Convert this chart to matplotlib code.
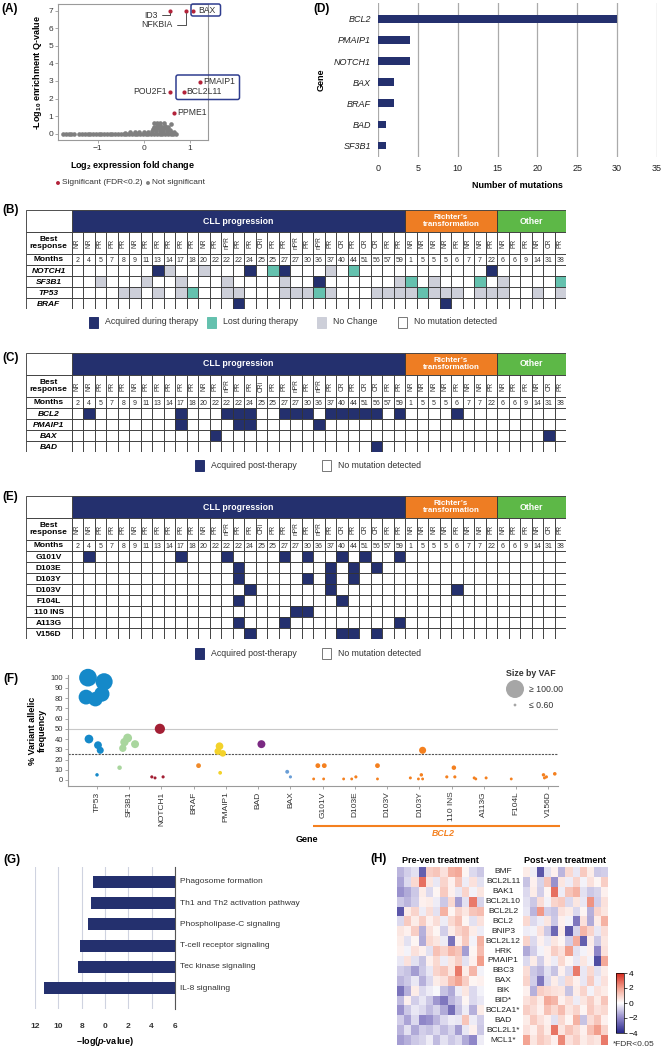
import matplotlib
matplotlib.use('Agg')
import matplotlib.pyplot as plt
from matplotlib.patches import Rectangle, FancyBboxPatch
from matplotlib.colors import LinearSegmentedColormap
import numpy as np

plt.rcParams['font.family'] = ['Liberation Sans', 'DejaVu Sans']
plt.rcParams['mathtext.fontset'] = 'custom'
plt.rcParams['mathtext.rm'] = 'Liberation Sans'
plt.rcParams['mathtext.it'] = 'Liberation Sans:italic'
plt.rcParams['mathtext.bf'] = 'Liberation Sans:bold'
try:
    plt.rcParams['mathtext.bfit'] = 'Liberation Sans:bold:italic'
except KeyError:
    pass

# ======================= DATA =======================
# (A) volcano-like plot
sig_genes = ['BAX', 'NFKBIA', 'ID3', 'PMAIP1', 'BCL2L11', 'POU2F1', 'PPME1']
sig_fc = [1.07, 0.92, 0.56, 1.22, 0.86, 0.56, 0.65]
sig_q = [7.0, 7.0, 7.0, 2.95, 2.38, 2.38, 1.18]
ns_fc = [-1.75, -1.69, -1.63, -1.57, -1.51,
         -1.40, -1.34, -1.28, -1.22, -1.16, -1.10, -1.04, -0.98, -0.92, -0.86, -0.80, -0.74,
         -0.68, -0.62, -0.56, -0.50, -0.44, -0.38, -0.32, -0.26, -0.20, -0.14, -0.08, -0.02,
         0.04, 0.10, 0.16, 0.22, 0.28, 0.34, 0.40, 0.46, 0.52, 0.58, 0.64, 0.70,
         -0.40, -0.30, -0.20, -0.10, 0.00, 0.10, 0.18, 0.26, 0.34, 0.42, 0.50, 0.58, 0.65,
         0.20, 0.26, 0.32, 0.38, 0.44, 0.50, 0.56,
         0.22, 0.28, 0.34, 0.40, 0.46, 0.52,
         0.22, 0.28, 0.36, 0.44, 0.58]
ns_q = [0, 0, 0, 0, 0,
        0, 0, 0, 0, 0, 0, 0, 0, 0, 0, 0, 0,
        0, 0, 0, 0, 0, 0, 0, 0, 0, 0, 0, 0,
        0, 0, 0, 0, 0, 0, 0, 0, 0, 0, 0, 0,
        0.05, 0.08, 0.08, 0.10, 0.12, 0.12, 0.15, 0.15, 0.18, 0.16, 0.14, 0.12, 0.08,
        0.25, 0.28, 0.30, 0.27, 0.30, 0.25, 0.22,
        0.40, 0.42, 0.45, 0.40, 0.44, 0.38,
        0.58, 0.60, 0.58, 0.60, 0.55]

# (D) number of mutations
d_genes = ['BCL2', 'PMAIP1', 'NOTCH1', 'BAX', 'BRAF', 'BAD', 'SF3B1']
d_counts = [30, 4, 4, 2, 2, 1, 1]

# Tables (B), (C), (E)
group_names = ['CLL progression', 'Richter\u2019s\ntransformation', 'Other']
group_sizes = [29, 8, 6]
resp_cll = ['NR', 'NR', 'PR', 'PR', 'PR', 'NR', 'PR', 'PR', 'PR', 'PR', 'PR', 'NR', 'PR', 'nPR', 'PR',
            'PR', 'CRi', 'PR', 'PR', 'nPR', 'PR', 'nPR', 'PR', 'CR', 'PR', 'CR', 'CR', 'PR', 'PR']
months_cll = [2, 4, 5, 7, 8, 9, 11, 13, 14, 17, 18, 20, 22, 22, 22, 24, 25, 25, 27, 27, 30, 36, 37,
              40, 44, 51, 56, 57, 59]
resp_rt = ['NR', 'NR', 'NR', 'NR', 'PR', 'NR', 'NR', 'PR']
months_rt = [1, 5, 5, 5, 6, 7, 7, 22]
resp_other = ['NR', 'PR', 'PR', 'NR', 'CR', 'PR']
months_other = [6, 6, 9, 14, 31, 38]

# (B) column indices per status
b_genes = ['NOTCH1', 'SF3B1', 'TP53', 'BRAF']
b_acquired = [[7, 15, 18, 36], [21], [], [14, 32]]
b_lost = [[17, 24], [29, 35, 42], [10, 21, 30], []]
b_nochange = [[8, 11, 22],
              [2, 6, 9, 13, 18, 28, 31, 37],
              [4, 5, 7, 9, 13, 14, 18, 19, 20, 22, 26, 27, 28, 29, 31, 32, 33, 35, 36, 37, 40, 42],
              []]

# (C) acquired post-therapy
c_genes = ['BCL2', 'PMAIP1', 'BAX', 'BAD']
c_acquired = [[1, 9, 13, 14, 15, 18, 19, 20, 22, 23, 24, 25, 26, 28, 33],
              [9, 14, 15, 21], [12, 41], [26]]

# (E) BCL2 mutations acquired post-therapy
e_genes = ['G101V', 'D103E', 'D103Y', 'D103V', 'F104L', '110 INS', 'A113G', 'V156D']
e_acquired = [[1, 9, 13, 18, 20, 23, 25, 28], [14, 22, 24, 26], [14, 20, 22, 24], [15, 22, 33],
              [14, 23], [19, 20], [14, 18, 28], [15, 23, 24, 26]]

# (F) variant allelic frequency
f_categories = ['TP53', 'SF3B1', 'NOTCH1', 'BRAF', 'PMAIP1', 'BAD', 'BAX', 'G101V', 'D103E',
                'D103V', 'D103Y', '110 INS', 'A113G', 'F104L', 'V156D']
f_pt_gene = ['TP53'] * 9 + ['SF3B1'] * 5 + ['NOTCH1'] * 4 + ['BRAF'] + ['PMAIP1'] * 4 + ['BAD'] + \
            ['BAX'] * 2 + ['G101V'] * 4 + ['D103E'] * 3 + ['D103V'] * 2 + ['D103Y'] * 5 + \
            ['110 INS'] * 3 + ['A113G'] * 3 + ['F104L'] + ['V156D'] * 4
f_pt_offset = [-0.28, 0.22, -0.34, -0.05, 0.15, -0.25, 0.03, 0.10, 0.00,
               -0.20, -0.15, -0.05, 0.18, -0.30,
               -0.05, -0.30, -0.20, 0.05,
               0.15,
               -0.20, -0.25, -0.10, -0.18,
               0.10,
               -0.10, 0.00,
               -0.15, 0.05, -0.28, 0.03,
               -0.35, -0.10, 0.03,
               -0.30, -0.30,
               0.10, -0.28, -0.03, 0.06, 0.10,
               -0.15, 0.07, 0.10,
               -0.30, -0.25, 0.07,
               -0.15,
               -0.15, -0.12, -0.06, 0.20]
f_pt_vaf = [100, 96, 81, 79, 84, 40, 34, 29, 5,
            31, 37, 41, 35, 12,
            50, 3, 2, 3,
            14,
            33, 28, 26, 7,
            35,
            8, 3,
            14, 14, 1, 1,
            1, 1, 3,
            14, 1,
            29, 2, 1, 5, 1,
            3, 12, 3,
            2, 1, 2,
            1,
            5, 2, 3, 6]

# (G) pathways
g_pathways = ['Phagosome formation', 'Th1 and Th2 activation pathway', 'Phospholipase-C signaling',
              'T-cell receptor signaling', 'Tec kinase signaling', 'IL-8 signaling']
g_values = [7.05, 7.17, 7.46, 8.14, 8.29, 11.2]
g_tick_values = [12, 10, 8, 6, 4, 2, 0]
g_tick_labels = ['12', '10', '8', '0', '2', '4', '6']

# (H) heat maps
h_genes = ['BMF', 'BCL2L11', 'BAK1', 'BCL2L10', 'BCL2L2', 'BCL2', 'BNIP3', 'BCL2L12', 'HRK',
           'PMAIP1', 'BBC3', 'BAX', 'BIK', 'BID*', 'BCL2A1*', 'BAD', 'BCL2L1*', 'MCL1*']
h_pre = [
    [-1.2, -0.8, -0.5, -2.8, 1.0, 1.2, 0.6, 1.6, 1.8, 0.2, -0.6, -0.9],
    [-1.5, -0.6, 0.8, 2.8, 0.5, -0.4, 0.9, 0.3, 1.2, -0.3, 0.6, -0.5],
    [-1.8, -1.4, -0.9, 0.4, -0.6, 0.2, 1.1, 0.3, -0.4, 0.9, -0.2, 0.5],
    [-0.9, -1.2, -0.8, 0.3, 0.4, -0.3, -0.9, 0.8, -1.6, -0.5, 2.6, -0.7],
    [-3.0, 0.4, 0.9, -0.3, 0.7, -0.5, 1.6, 0.2, 0.9, 0.5, 1.2, 1.4],
    [-0.6, 1.1, 0.4, 1.0, 0.3, 0.7, -0.3, 0.8, 1.3, 0.2, -0.5, 0.6],
    [0.5, 0.3, 1.0, -1.3, 0.6, 0.2, -0.8, 0.4, 0.9, 1.2, 0.4, -0.3],
    [0.4, -0.5, 0.2, -1.4, 0.8, 0.5, -0.3, -2.4, 0.3, 1.1, -0.2, 1.6],
    [0.3, -0.2, 0.6, 0.3, -0.5, 1.3, 0.9, 1.5, 1.2, -1.6, 0.2, 1.4],
    [-0.4, 0.6, -0.5, -1.0, 0.3, 0.8, -0.3, 0.5, 1.0, -0.5, 0.3, 2.0],
    [-0.8, -1.0, -1.6, -0.9, -0.4, 0.9, 1.2, 0.5, 2.6, 0.4, 1.5, -0.2],
    [-1.2, -0.9, -0.4, -1.3, -0.6, 0.4, 0.6, 1.4, 1.9, 1.0, 0.2, 0.3],
    [-2.4, -1.3, 0.4, -0.6, -0.3, -0.1, -1.0, -1.4, -0.3, 0.5, -0.6, -0.2],
    [-1.1, 0.3, -0.8, -0.4, -0.9, -1.7, -2.3, -1.2, -0.8, 0.2, -0.6, -0.4],
    [-1.8, -0.9, -0.4, -0.6, -1.1, -0.7, -1.4, -2.5, -1.0, -0.3, -1.3, 0.4],
    [-0.8, -1.5, -0.6, -2.0, -1.8, -1.2, -0.6, -0.3, -0.4, 1.2, -0.3, -0.8],
    [-1.2, -0.5, -1.4, -0.8, -1.0, -0.6, -1.1, -0.7, -1.6, -0.4, 0.3, -0.9],
    [-1.6, -1.3, -0.9, -0.7, -0.3, -1.1, -0.5, -0.9, -0.6, -1.4, -2.0, -0.3],
]
h_post = [
    [0.4, -0.3, -3.0, -0.5, 0.3, -1.2, 0.8, -0.4, 1.1, 0.4, -0.9, -0.8],
    [-1.0, 0.3, -0.7, 1.2, -1.8, 0.5, -0.3, 0.9, -0.2, 0.6, 0.2, 1.0],
    [-0.6, 0.4, -0.8, 0.2, 2.8, -0.3, 1.2, 1.6, -0.5, -0.9, -0.7, 0.3],
    [-0.5, -0.9, 0.7, -0.2, 0.9, 1.1, -0.6, 0.5, -0.4, 2.2, -0.8, 0.6],
    [-0.4, -1.2, 2.1, -0.8, -1.0, 0.6, 0.4, -0.6, 0.2, -1.3, 0.9, 0.5],
    [0.8, -0.6, -0.3, 0.5, -0.9, 0.3, -0.2, -2.3, 0.6, -1.4, 0.4, 1.6],
    [-0.3, -0.2, 0.6, -0.9, -2.6, 0.4, -3.0, -0.7, 1.5, 0.9, -0.4, 0.7],
    [0.9, -0.6, 0.3, -0.4, 0.5, 0.2, -0.8, 1.7, -2.8, 0.4, -0.9, 0.5],
    [-1.4, -0.8, -0.2, 0.3, 1.0, 0.6, 2.0, -0.5, -0.2, 0.3, -2.0, 0.6],
    [-0.6, 0.4, -0.8, 0.3, -0.3, 0.8, 0.2, -0.4, 0.5, -0.2, -3.2, 1.8],
    [0.7, -0.9, -1.2, -0.5, -1.0, 0.3, -0.6, 2.6, -0.4, 0.8, -0.5, 0.4],
    [0.9, -0.8, -2.3, -0.6, 0.4, -0.5, 0.8, 0.3, -0.4, 1.1, -0.3, 0.6],
    [0.3, -1.3, 1.0, 0.8, 0.6, 0.5, -1.0, 0.4, 0.9, -0.2, 0.6, 0.4],
    [0.6, 0.9, 0.4, 1.8, 1.5, 0.3, 0.7, -0.3, 0.5, 1.0, 0.4, 1.2],
    [1.0, 0.7, 0.3, 1.3, 0.8, 1.4, 0.5, 0.9, 0.2, 1.1, 0.6, 0.8],
    [0.4, 1.1, 0.6, 0.3, -0.5, 0.8, 0.2, 1.6, -1.0, 0.7, 1.2, 0.3],
    [0.6, 0.3, 1.0, 0.4, 2.7, 0.5, 1.2, 0.8, 0.3, 1.3, 2.0, 0.9],
    [1.9, 0.5, 1.1, 0.8, 0.3, 2.4, 0.6, 1.0, 0.4, 0.7, 0.5, 2.6],
]

# ======================= STYLE =======================
NAVY = '#24306e'
TEAL = '#64c1ae'
GREY_NC = '#cdcfd9'
ORANGE = '#ee7d23'
GREEN = '#5db847'
SIG_RED = '#b3233a'
NS_GREY = '#7f7f7f'
BOXBLUE = '#2f3d8f'
group_colors = [NAVY, ORANGE, GREEN]
f_colors = {'TP53': '#1589c9', 'SF3B1': '#a9d69e', 'NOTCH1': '#a31f34', 'BRAF': '#f08a2a',
            'PMAIP1': '#f3d22a', 'BAD': '#7b2a83', 'BAX': '#6a9ed6'}
BCL2_COLOR = '#f4801f'

W, H = 662, 1050
fig = plt.figure(figsize=(6.62, 10.5), dpi=100)


def px_rect(l, t, r, b):
    return [l / W, 1 - b / H, (r - l) / W, (b - t) / H]


# ======================= (A) =======================
axA = fig.add_axes(px_rect(58, 4, 208, 140))
axA.scatter(ns_fc, ns_q, s=11, c=NS_GREY, lw=0, zorder=2)
axA.scatter(sig_fc, sig_q, s=9, c=SIG_RED, lw=0, zorder=3)
axA.set_xlim(-1.86, 1.39)
axA.set_ylim(-0.36, 7.38)
axA.set_xticks([-1, 0, 1])
axA.set_yticks(range(8))
for sp in axA.spines.values():
    sp.set_color('#9a9a9a')
    sp.set_linewidth(0.8)
axA.tick_params(labelsize=6, length=2, width=0.6, color='#9a9a9a', pad=1.5, labelcolor='#333333')
axA.set_xlabel(r'Log$_{\mathbf{2}}$ expression fold change', fontsize=6.5, weight='bold', labelpad=5)
axA.set_ylabel(r'-Log$_{\mathbf{10}}$ enrichment Q-value', fontsize=6.5, weight='bold', labelpad=3)
lab_kw = dict(fontsize=6.2, color='#333333', va='center')
axA.text(1.17, 7.0, 'BAX', ha='left', **lab_kw)
axA.text(1.29, 2.95, 'PMAIP1', ha='left', **lab_kw)
axA.text(0.92, 2.38, 'BCL2L11', ha='left', **lab_kw)
axA.text(0.49, 2.38, 'POU2F1', ha='right', **lab_kw)
axA.text(0.73, 1.18, 'PPME1', ha='left', **lab_kw)
conn = dict(arrowstyle='-', color='#333333', lw=0.6, shrinkA=1, shrinkB=2,
            connectionstyle='angle,angleA=0,angleB=90,rad=0')
axA.annotate('ID3', xy=(0.56, 7.0), xytext=(0.30, 6.75), ha='right', arrowprops=conn, **lab_kw)
axA.annotate('NFKBIA', xy=(0.92, 7.0), xytext=(0.63, 6.2), ha='right', arrowprops=conn, **lab_kw)

# ======================= (D) =======================
axD = fig.add_axes(px_rect(378, 3, 657, 157))
axD.barh(range(len(d_genes)), d_counts, height=0.36, color=NAVY, zorder=3)
axD.set_xlim(0, 35)
axD.set_ylim(6.55, -0.75)
axD.set_xticks(range(0, 36, 5))
axD.set_yticks(range(len(d_genes)))
axD.set_yticklabels(d_genes, style='italic')
axD.grid(axis='x', color='#aaaaaa', lw=0.9)
axD.set_axisbelow(True)
for sp in axD.spines.values():
    sp.set_visible(False)
axD.tick_params(length=0, labelsize=6.5, labelcolor='#222222', pad=5)
axD.set_xlabel('Number of mutations', weight='bold', fontsize=6.5, labelpad=6)
axD.set_ylabel('Gene', weight='bold', fontsize=6.5, labelpad=6)

# ======================= TABLES =======================
all_resp = resp_cll + resp_rt + resp_other
all_months = months_cll + months_rt + months_other
NCOL = len(all_months)
LABW = 3.96
EC = '#333333'
LW = 0.6


def draw_table(top, genes, colour_rows, gene_style):
    n = len(genes)
    bottom = top + 55 + 11 * n
    ax = fig.add_axes(px_rect(26, top, 26 + (LABW + NCOL) * 11.5, bottom))
    ax.set_xlim(-LABW, NCOL)
    ax.set_ylim(5 + n, 0)
    ax.axis('off')
    start = 0
    for name, size, col in zip(group_names, group_sizes, group_colors):
        ax.add_patch(Rectangle((start, 0), size, 2, fc=col, ec=EC, lw=LW))
        ax.text(start + size / 2, 1, name, color='white', weight='bold', ha='center', va='center',
                fontsize=6.3 if '\n' not in name else 5.8, linespacing=1.0)
        start += size
    ax.add_patch(Rectangle((-LABW, 0), LABW, 2, fc='white', ec=EC, lw=LW))
    ax.add_patch(Rectangle((-LABW, 2), LABW, 2, fc='white', ec=EC, lw=LW))
    ax.add_patch(Rectangle((-LABW, 4), LABW, 1, fc='white', ec=EC, lw=LW))
    ax.text(-LABW / 2, 3, 'Best\nresponse', weight='bold', ha='center', va='center', fontsize=6,
            linespacing=1.1)
    ax.text(-LABW / 2, 4.5, 'Months', weight='bold', ha='center', va='center', fontsize=6)
    for i in range(NCOL):
        ax.add_patch(Rectangle((i, 2), 1, 2, fc='white', ec=EC, lw=LW))
        ax.text(i + 0.5, 3, all_resp[i], rotation=90, ha='center', va='center', fontsize=4.8,
                color='#333333')
        ax.add_patch(Rectangle((i, 4), 1, 1, fc='white', ec=EC, lw=LW))
        ax.text(i + 0.5, 4.55, str(all_months[i]), ha='center', va='center', fontsize=5,
                color='#333333')
    for k, g in enumerate(genes):
        ax.add_patch(Rectangle((-LABW, 5 + k), LABW, 1, fc='white', ec=EC, lw=LW))
        ax.text(-LABW / 2, 5.55 + k, g, weight='bold', style=gene_style, ha='center',
                va='center', fontsize=6)
        for i in range(NCOL):
            ax.add_patch(Rectangle((i, 5 + k), 1, 1, fc=colour_rows[k][i], ec=EC, lw=LW))
    return ax


def build_rows(n, status_lists):
    rows = [['white'] * NCOL for _ in range(n)]
    for lists, col in status_lists:
        for k, idx in enumerate(lists):
            for i in idx:
                rows[k][i] = col
    return rows


rows_B = build_rows(len(b_genes), [(b_nochange, GREY_NC), (b_lost, TEAL), (b_acquired, NAVY)])
rows_C = build_rows(len(c_genes), [(c_acquired, NAVY)])
rows_E = build_rows(len(e_genes), [(e_acquired, NAVY)])
draw_table(210, b_genes, rows_B, 'italic')
draw_table(353, c_genes, rows_C, 'italic')
draw_table(496, e_genes, rows_E, 'normal')

# ======================= (F) =======================
axF = fig.add_axes(px_rect(68, 675, 558, 786))
xs = [f_categories.index(g) + o for g, o in zip(f_pt_gene, f_pt_offset)]
cols = [f_colors.get(g, BCL2_COLOR) for g in f_pt_gene]
sizes = [((2.7 + 0.15 * v) * 0.72) ** 2 for v in f_pt_vaf]
axF.axhline(50, color='#c8c8c8', lw=0.8, zorder=1)
axF.axhline(25, color='#555555', lw=0.8, ls=(0, (2, 1)), zorder=1)
axF.scatter(xs, f_pt_vaf, s=sizes, c=cols, lw=0, zorder=3, clip_on=False)
axF.set_xlim(-0.9, 14.3)
axF.set_ylim(-5.9, 102.6)
axF.set_yticks(range(0, 101, 10))
axF.set_xticks(range(len(f_categories)))
axF.set_xticklabels(f_categories, rotation=90)
for s in ['top', 'right']:
    axF.spines[s].set_visible(False)
for s in ['left', 'bottom']:
    axF.spines[s].set_color('#9a9a9a')
    axF.spines[s].set_linewidth(0.8)
axF.tick_params(axis='y', labelsize=5.5, length=2, width=0.6, color='#9a9a9a', pad=1.5,
                labelcolor='#333333')
axF.tick_params(axis='x', labelsize=6, length=2, width=0.6, color='#9a9a9a', pad=2,
                labelcolor='#333333')
axF.set_ylabel('% Variant allelic\nfrequency', weight='bold', fontsize=6.5, labelpad=3,
               linespacing=1.0)

# ======================= (G) =======================
axG = fig.add_axes(px_rect(35, 867, 175, 1009))
axG.barh(range(len(g_pathways)), g_values, height=0.55, color=NAVY, zorder=3)
axG.set_xlim(12, 0)
axG.set_ylim(5.97, -0.69)
axG.set_xticks(g_tick_values)
axG.set_xticklabels(g_tick_labels, weight='bold')
axG.set_yticks([])
axG.grid(axis='x', color='#cfd3e0', lw=0.8)
axG.set_axisbelow(True)
for s in ['top', 'left', 'bottom']:
    axG.spines[s].set_visible(False)
axG.spines['right'].set_color('#555555')
axG.spines['right'].set_linewidth(0.8)
axG.tick_params(axis='x', length=0, labelsize=6, pad=10, labelcolor='#333333')
for k, p in enumerate(g_pathways):
    axG.text(-0.43, k, p, ha='left', va='center', fontsize=6, color='#333333')
axG.set_xlabel('\u2013log($\\mathbfit{p}$-value)', weight='bold', fontsize=6.5, labelpad=4)

# ======================= (H) =======================
hm_cmap = LinearSegmentedColormap.from_list(
    'bwr2', [(0, '#27278a'), (0.25, '#8f86c8'), (0.5, '#ffffff'), (0.75, '#f3a08e'), (1, '#d5281d')])
axH1 = fig.add_axes(px_rect(397, 867, 483, 1045))
axH2 = fig.add_axes(px_rect(523, 867, 608, 1045))
im = axH1.imshow(np.array(h_pre), cmap=hm_cmap, vmin=-4, vmax=4, aspect='auto',
                 interpolation='nearest')
axH2.imshow(np.array(h_post), cmap=hm_cmap, vmin=-4, vmax=4, aspect='auto',
            interpolation='nearest')
for ax, title in [(axH1, 'Pre-ven treatment'), (axH2, 'Post-ven treatment')]:
    ax.set_xticks([])
    ax.set_yticks([])
    for sp in ax.spines.values():
        sp.set_visible(False)
    ax.set_title(title, fontsize=6.5, weight='bold', pad=3)
for k, g in enumerate(h_genes):
    axH1.text(14.3, k, g, ha='center', va='center', fontsize=6, color='#222222', clip_on=False)
cax = fig.add_axes(px_rect(616, 973, 624, 1033))
cb = fig.colorbar(im, cax=cax, ticks=[-4, -2, 0, 2, 4])
cb.ax.tick_params(labelsize=6, length=2, width=0.5, pad=1.5)
cb.outline.set_linewidth(0.5)

# ======================= OVERLAY (labels, legends, boxes) =======================
ov = fig.add_axes([0, 0, 1, 1])
ov.set_xlim(0, W)
ov.set_ylim(H, 0)
ov.axis('off')

for lab, x, y in [('(A)', 1, 9), ('(D)', 313, 9), ('(B)', 2, 210), ('(C)', 2, 358),
                  ('(E)', 2, 497), ('(F)', 3, 679), ('(G)', 3, 860), ('(H)', 370, 859)]:
    ov.text(x, y, lab, fontsize=8.5, weight='bold', ha='left', va='center')

# boxes in (A)
ov.add_patch(FancyBboxPatch((191, 4), 29.5, 12, boxstyle='round,pad=0,rounding_size=2',
                            ec=BOXBLUE, fc='none', lw=1.1))
ov.add_patch(FancyBboxPatch((176, 75), 63.5, 24.5, boxstyle='round,pad=0,rounding_size=2',
                            ec=BOXBLUE, fc='none', lw=1.1))

# legend of (A)
ov.scatter([58, 148], [183, 183], s=8, c=[SIG_RED, NS_GREY], lw=0)
ov.text(62, 183, 'Significant (FDR<0.2)', fontsize=6, va='center', color='#333333')
ov.text(152, 183, 'Not significant', fontsize=6, va='center', color='#333333')


def legend_item(x, y, colour, label):
    ov.add_patch(Rectangle((x, y - 5.5), 9, 11, fc=colour,
                           ec='#777777' if colour == 'white' else colour, lw=0.7))
    ov.text(x + 16, y, label, fontsize=6.3, va='center', color='#333333')


for x, c, l in [(89, NAVY, 'Acquired during therapy'), (207, TEAL, 'Lost during therapy'),
                (317, GREY_NC, 'No Change'), (398, 'white', 'No mutation detected')]:
    legend_item(x, 322, c, l)
for yy in (465, 653):
    legend_item(195, yy, NAVY, 'Acquired post-therapy')
    legend_item(322, yy, 'white', 'No mutation detected')

# (F) extras
ov.text(506, 674, 'Size by VAF', fontsize=6.3, weight='bold', va='center', color='#333333')
ov.scatter([515, 515], [689, 705], s=[(18 * 0.72) ** 2, (2.8 * 0.72) ** 2], c='#a6a6a6', lw=0)
ov.text(529, 689, '\u2265 100.00', fontsize=6.3, va='center', color='#333333')
ov.text(529, 705, '\u2264 0.60', fontsize=6.3, va='center', color='#333333')
ov.plot([313, 560], [826, 826], color=BCL2_COLOR, lw=1.5, solid_capstyle='butt')
ov.text(443, 833, 'BCL2', color=BCL2_COLOR, style='italic', weight='bold', fontsize=6.3,
        ha='center', va='center')
ov.text(307, 840, 'Gene', weight='bold', fontsize=6.5, ha='center', va='center')

# (H) footnote
ov.text(613, 1045, '*FDR<0.05', fontsize=6, va='center', color='#333333')

fig.savefig('out.png', dpi=100)
